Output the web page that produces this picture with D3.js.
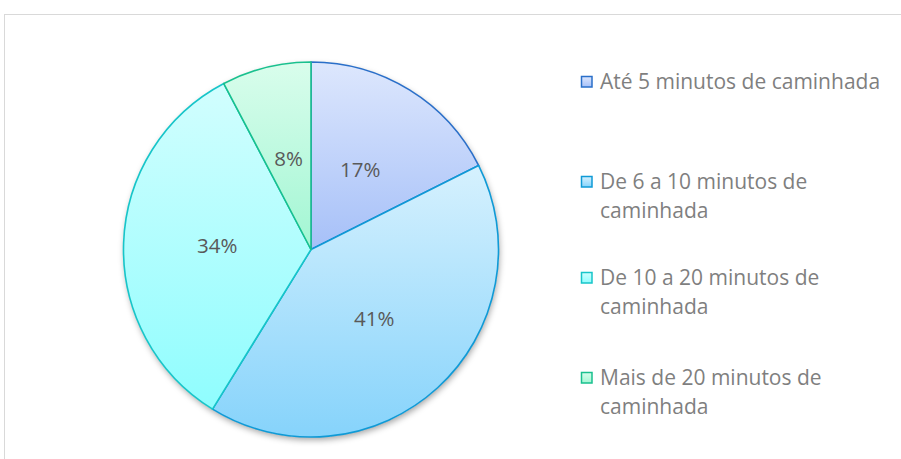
<!DOCTYPE html>
<html lang="pt">
<head>
<meta charset="UTF-8">
<title>Tempo de caminhada</title>
<script src="https://cdn.jsdelivr.net/npm/d3@7/dist/d3.min.js"></script>
<style>
body { margin: 0; background: #fff; }
text { font-family: 'Open Sans', Lato, sans-serif; }
</style>
</head>
<body>
<script>
// values (share of the pie), labels shown rounded
const categories = [
    ["Até 5 minutos de caminhada"],
    ["De 6 a 10 minutos de", "caminhada"],
    ["De 10 a 20 minutos de", "caminhada"],
    ["Mais de 20 minutos de", "caminhada"]
];
const values = [17.6, 41.2, 33.5, 7.7];
const labels = ["17%", "41%", "34%", "8%"];
const fillTop = ["#dde7fd", "#d6f1fe", "#d2fefe", "#d9fdec"];
const fillBottom = ["#a6c0f8", "#86d3fb", "#8ffdfe", "#a2f6d3"];
const strokes = ["#2a6fc9", "#0f9ad6", "#17c5c9", "#19c08e"];

const width = 901, height = 459;
const cx = 311, cy = 249.5, R = 187.5;

const svg = d3.select("body").append("svg")
    .attr("width", width)
    .attr("height", height);

const defs = svg.append("defs");

// soft shadow under the pie
const shadow = defs.append("filter").attr("id", "shadow")
    .attr("x", "-10%").attr("y", "-10%").attr("width", "125%").attr("height", "125%");
shadow.append("feDropShadow")
    .attr("dx", 1).attr("dy", 3).attr("stdDeviation", 3)
    .attr("flood-color", "#000").attr("flood-opacity", 0.35);

values.forEach((v, i) => {
    const grad = defs.append("linearGradient").attr("id", "g" + i)
        .attr("x1", 0).attr("y1", 0).attr("x2", 0).attr("y2", 1);
    grad.append("stop").attr("offset", "0%").attr("stop-color", fillTop[i]);
    grad.append("stop").attr("offset", "100%").attr("stop-color", fillBottom[i]);
});

// chart frame (runs off the right and bottom edges)
svg.append("rect")
    .attr("x", 4.5).attr("y", 14.5)
    .attr("width", width + 10).attr("height", height + 10)
    .attr("fill", "none").attr("stroke", "#d9d9d9").attr("stroke-width", 1);

const pie = d3.pie().sort(null).value(d => d);
const arcs = pie(values);
const arc = d3.arc().innerRadius(0).outerRadius(R);
const labelArc = d3.arc().innerRadius(R * 0.5).outerRadius(R * 0.5);

const g = svg.append("g").attr("transform", `translate(${cx},${cy})`);

g.append("circle").attr("r", R).attr("fill", "#fff").attr("filter", "url(#shadow)");

g.selectAll("path.slice")
    .data(arcs)
    .enter().append("path")
    .attr("class", "slice")
    .attr("d", arc)
    .attr("fill", (d, i) => `url(#g${i})`)
    .attr("stroke", (d, i) => strokes[i])
    .attr("stroke-width", 1.6)
    .attr("stroke-linejoin", "round");

g.selectAll("text.lbl")
    .data(arcs)
    .enter().append("text")
    .attr("class", "lbl")
    .attr("transform", d => `translate(${labelArc.centroid(d)})`)
    .attr("text-anchor", "middle")
    .attr("dy", "0.35em")
    .attr("fill", "#595959")
    .style("font-size", "20.5px")
    .text((d, i) => labels[i]);

// legend
const legendY = [82, 182, 278, 378];
const legend = svg.append("g");
categories.forEach((lines, i) => {
    const item = legend.append("g").attr("transform", `translate(581,${legendY[i]})`);
    item.append("rect")
        .attr("x", 0.5).attr("y", -5.5).attr("width", 10.5).attr("height", 10.5)
        .attr("fill", `url(#g${i})`)
        .attr("stroke", strokes[i]).attr("stroke-width", 1.5);
    const t = item.append("text")
        .attr("x", 19).attr("y", 0)
        .attr("fill", "#7f7f7f")
        .style("font-size", "21px");
    lines.forEach((line, j) => {
        t.append("tspan").attr("x", 19).attr("dy", j === 0 ? "0.35em" : 29).text(line);
    });
});
</script>
</body>
</html>
